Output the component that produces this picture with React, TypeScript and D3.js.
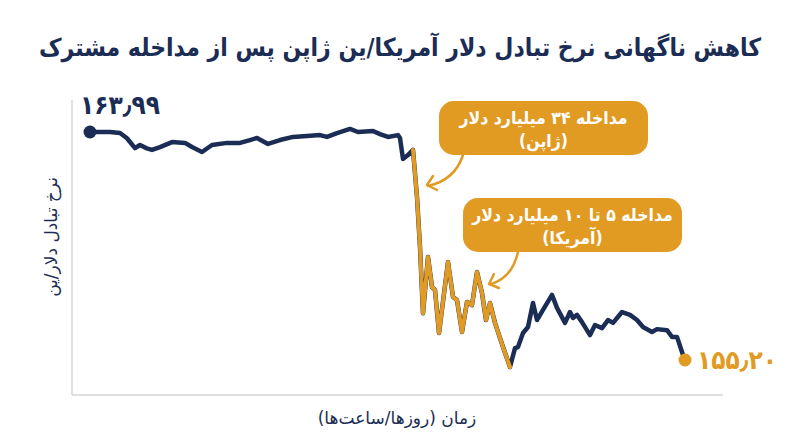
import React from 'react';
import * as d3 from 'd3';

// time in hours from the start of the window, and USD/JPY rate
const times = [
  0, 4, 6, 7.4, 9, 10, 11.2, 12.4, 14, 16.4, 19, 20.4, 22.4, 24.4, 27.4, 30, 32, 33.4, 35.6, 38,
  40.6, 43.4, 46, 47.4, 49.4, 52, 53.6, 56.6, 58, 59.6, 61.6, 62, 62.6, 63.6, 64.6, 65.4, 66, 66.6,
  67.6, 68.4, 69, 69.8, 71.6, 72.6, 73.4, 74.4, 75.4, 76.4, 77.4, 78.4, 79.2, 80, 81, 82.6, 84,
  85, 85.6, 86.6, 87.6, 88.6, 89.4, 90.6, 92.4, 93.4, 95, 96, 96.6, 97.4, 98.4, 100, 101, 102.4,
  103.6, 104.6, 106.4, 108, 109.4, 110.6, 112.4, 113.4, 115.4, 116.4, 117.4, 118.6, 119,
];
const rates = [
  163.99, 163.99, 163.95, 163.75, 163.37, 163.49, 163.37, 163.3, 163.41, 163.6, 163.57, 163.41,
  163.22, 163.49, 163.57, 163.57, 163.68, 163.76, 163.53, 163.68, 163.8, 163.84, 163.87, 163.8,
  163.95, 164.11, 163.99, 164.03, 163.91, 163.8, 163.87, 163.76, 162.95, 163.1, 163.3, 161.48,
  159.56, 157.0, 159.17, 158.01, 157.9, 156.24, 158.98, 157.63, 157.51, 156.28, 157.44, 157.32,
  158.59, 157.78, 156.74, 157.4, 156.63, 155.7, 154.93, 155.66, 155.7, 156.24, 156.47, 157.4,
  156.74, 157.13, 157.71, 157.21, 156.63, 157.05, 156.82, 156.94, 156.66, 156.16, 156.55, 156.43,
  156.74, 156.63, 157.05, 156.94, 156.74, 156.47, 156.28, 156.39, 156.35, 156.09, 156.09, 155.39,
  155.2,
];
// hours during which the interventions were active
const interventionWindow = [64.6, 84];

const startLabel = '۱۶۳٫۹۹';
const endLabel = '۱۵۵٫۲۰';
const title = 'کاهش ناگهانی نرخ تبادل دلار آمریکا/ین ژاپن پس از مداخله مشترک';
const yLabel = 'نرخ تبادل دلار/ین';
const xLabel = 'زمان (روزها/ساعت‌ها)';
const notes = [
  { lines: ['مداخله ۳۴ میلیارد دلار', '(ژاپن)'], box: [439, 101, 209, 54], arrow: 'M463,155 Q455,180 428,186', head: 'M433,176 L427,185 L437,190' },
  { lines: ['مداخله ۵ تا ۱۰ میلیارد دلار', '(آمریکا)'], box: [463, 198, 219, 54], arrow: 'M518,252 Q512,278 491,284', head: 'M494,274 L489,284 L499,288' },
];

const W = 800;
const H = 447;
const NAVY = '#1b2c55';
const ORANGE = '#e19a22';
const FONT = "'DejaVu Sans', sans-serif";
const CONDENSED = "'DejaVu Sans Condensed', 'DejaVu Sans', sans-serif";

export default function App() {
  const data = times.map((t, i) => ({ t, v: rates[i] }));
  const x = d3.scaleLinear().domain([0, 119]).range([90, 685]);
  const y = d3.scaleLinear().domain([155.2, 163.99]).range([360, 132]);
  const line = d3
    .line<{ t: number; v: number }>()
    .x((d) => x(d.t))
    .y((d) => y(d.v));
  const highlight = data.filter((d) => d.t >= interventionWindow[0] && d.t <= interventionWindow[1]);
  const first = data[0];
  const last = data[data.length - 1];

  return (
    <div style={{ position: 'absolute', left: 0, top: 0 }}>
      <svg width={W} height={H} style={{ display: 'block', background: '#fff' }} fontFamily={FONT}>
        <text
          x={W / 2}
          y={56}
          textAnchor="middle"
          fontSize={25}
          fontWeight="bold"
          fill={NAVY}
          direction="rtl"
          fontFamily={CONDENSED}
          textLength={722}
          lengthAdjust="spacingAndGlyphs"
        >
          {title}
        </text>

        {/* axes */}
        <line x1={72} x2={72} y1={100} y2={395} stroke="#d4d4d4" strokeWidth={1.5} />
        <line x1={72} x2={723} y1={395} y2={395} stroke="#d4d4d4" strokeWidth={1.5} />
        <text transform="translate(51,237) rotate(-90)" textAnchor="middle" dy="0.35em" fontSize={17} fill={NAVY} direction="rtl">
          {yLabel}
        </text>
        <text x={397} y={424} textAnchor="middle" fontSize={17} fill={NAVY} direction="rtl">
          {xLabel}
        </text>

        <path d={line(data) || undefined} fill="none" stroke={NAVY} strokeWidth={4.5} strokeLinejoin="round" strokeLinecap="round" />
        <path d={line(highlight) || undefined} fill="none" stroke={ORANGE} strokeWidth={4} strokeLinejoin="round" strokeLinecap="round" />

        <circle cx={x(first.t)} cy={y(first.v)} r={6.5} fill={NAVY} />
        <circle cx={x(last.t)} cy={y(last.v)} r={6.5} fill={ORANGE} />
        <text x={80} y={y(first.v) - 18} fontSize={26} fontWeight="bold" fill={NAVY} fontFamily={CONDENSED}>
          {startLabel}
        </text>
        <text x={x(last.t) + 12} y={y(last.v) + 9} fontSize={26} fontWeight="bold" fill={ORANGE} fontFamily={CONDENSED}>
          {endLabel}
        </text>

        {notes.map((n, i) => {
          const [bx, by, bw, bh] = n.box;
          return (
            <g key={i}>
              <path d={n.arrow} fill="none" stroke={ORANGE} strokeWidth={2.5} strokeLinecap="round" />
              <path d={n.head} fill="none" stroke={ORANGE} strokeWidth={2.5} strokeLinecap="round" strokeLinejoin="round" />
              <rect x={bx} y={by} width={bw} height={bh} rx={15} fill={ORANGE} />
              {n.lines.map((l, j) => (
                <text key={j} x={bx + bw / 2} y={by + 23 + j * 23} textAnchor="middle" fontSize={17.5} fontWeight="bold" fill="#fff" direction="rtl" fontFamily={CONDENSED}>
                  {l}
                </text>
              ))}
            </g>
          );
        })}
      </svg>
    </div>
  );
}
